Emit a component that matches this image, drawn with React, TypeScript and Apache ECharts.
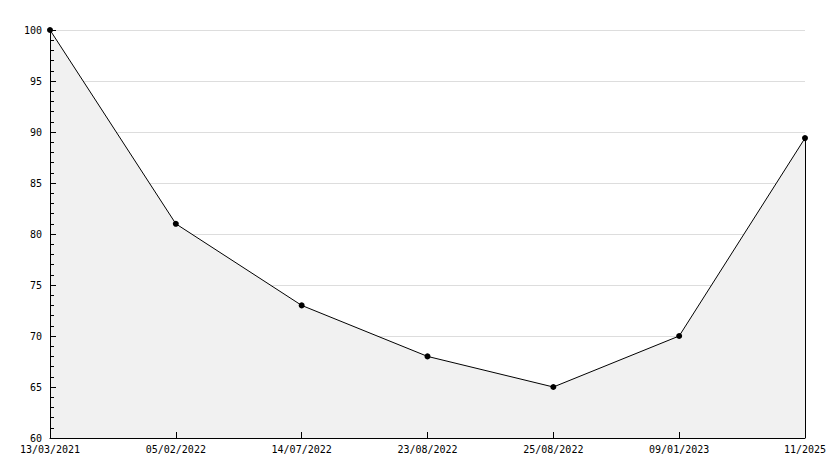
import React, { useEffect, useRef } from "react";
import * as echarts from "echarts";

const categories = ["13/03/2021", "05/02/2022", "14/07/2022", "23/08/2022", "25/08/2022", "09/01/2023", "11/2025"];
const values = [100, 81, 73, 68, 65, 70, 89.4];
const yMin = 60;
const yMax = 100;
const yInterval = 5;

export default function App() {
  const ref = useRef<HTMLDivElement>(null);
  useEffect(() => {
    if (!ref.current) return;
    const chart = echarts.init(ref.current, undefined, { renderer: "svg" });
    const font = "'DejaVu Sans Mono', monospace";
    const lastIdx = categories.length - 1;
    chart.setOption({
      animation: false,
      backgroundColor: "#ffffff",
      grid: { left: 50, right: 29, top: 30, bottom: 30, containLabel: false },
      xAxis: {
        type: "category",
        data: categories,
        boundaryGap: false,
        z: 10,
        axisLine: { show: true, lineStyle: { color: "#000", width: 1 } },
        axisTick: { show: true, inside: true, length: 6, alignWithLabel: true, lineStyle: { color: "#000", width: 1 } },
        axisLabel: { color: "#000", fontFamily: font, fontSize: 10, margin: 6, interval: 0 },
        splitLine: { show: false },
      },
      yAxis: [
        {
          type: "value",
          min: yMin,
          max: yMax,
          interval: yInterval,
          z: 0,
          axisLine: { show: false },
          axisTick: { show: false },
          axisLabel: { show: false },
          splitLine: { show: true, lineStyle: { color: "#dddddd", width: 1 } },
        },
        {
          type: "value",
          position: "left",
          min: yMin,
          max: yMax,
          interval: yInterval,
          z: 10,
          axisLine: { show: true, lineStyle: { color: "#000", width: 1 } },
          axisTick: { show: true, inside: true, length: 6, lineStyle: { color: "#000", width: 1 } },
          minorTick: { show: true, splitNumber: 5, length: 4, lineStyle: { color: "#000", width: 1 } },
          axisLabel: { color: "#000", fontFamily: font, fontSize: 10, margin: 8 },
          splitLine: { show: false },
        },
      ],
      series: [
        {
          type: "line",
          data: values,
          yAxisIndex: 0,
          z: 2,
          symbol: "circle",
          symbolSize: 6,
          itemStyle: { color: "#000" },
          lineStyle: { color: "#000", width: 1 },
          areaStyle: { color: "#f1f1f1", opacity: 1 },
          markLine: {
            silent: true,
            symbol: "none",
            label: { show: false },
            lineStyle: { color: "#000", width: 1, type: "solid" },
            data: [
              [
                { coord: [lastIdx, yMin] },
                { coord: [lastIdx, values[lastIdx]] },
              ],
            ],
          },
        },
      ],
    });
    return () => chart.dispose();
  }, []);
  return <div ref={ref} style={{ width: 834, height: 468, position: "absolute", left: 0, top: 0 }} />;
}
